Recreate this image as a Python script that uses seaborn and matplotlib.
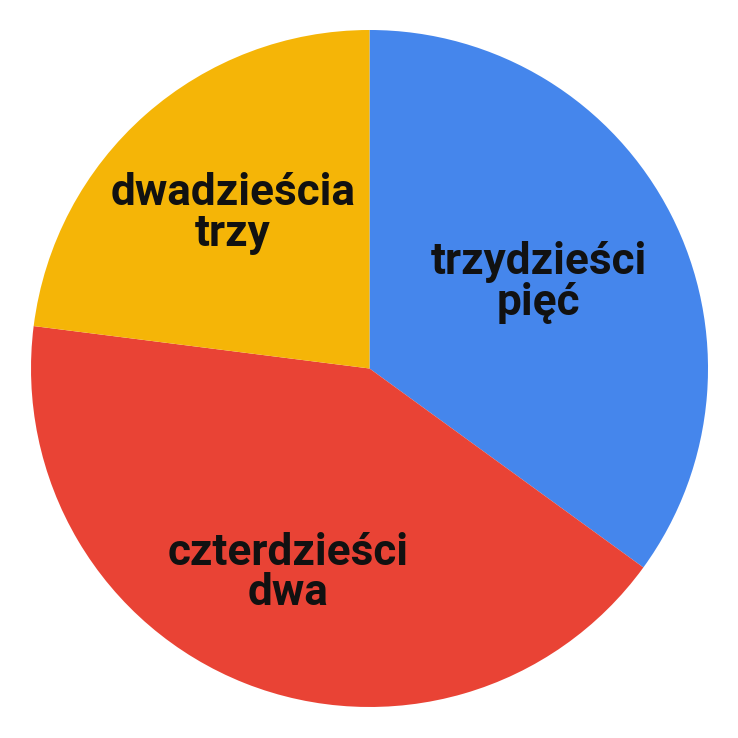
import numpy as np
import matplotlib
matplotlib.use("Agg")
import matplotlib.pyplot as plt
import seaborn as sns

sns.set_theme(style="white")
plt.rcParams["font.family"] = ["Roboto", "DejaVu Sans"]

# dane z wykresu (kolejność zgodnie z ruchem wskazówek zegara od góry)
labels = ["trzydzieści\npięć", "czterdzieści\ndwa", "dwadzieścia\ntrzy"]
values = [35, 42, 23]
colors = ["#4586EC", "#E94335", "#F5B507"]

# odległość etykiety od środka (ułamek promienia)
label_dist = [0.56, 0.65, 0.61]

fig = plt.figure(figsize=(7.38, 7.38), dpi=100)
ax = fig.add_axes([0, 0, 1, 1])

wedges, _ = ax.pie(values, colors=colors, startangle=90, counterclock=False,
                   radius=1, wedgeprops=dict(linewidth=0))

for w, lbl, d in zip(wedges, labels, label_dist):
    mid = np.deg2rad((w.theta1 + w.theta2) / 2)
    ax.text(d * np.cos(mid), d * np.sin(mid), lbl, ha="center", va="center",
            fontsize=31.8, fontweight="bold", color="#111111", linespacing=0.95)

ax.set_xlim(-1.0916, 1.0886)
ax.set_ylim(-1.0916, 1.0886)
ax.set_aspect("equal")
ax.axis("off")

fig.savefig("out.png", dpi=100, facecolor="white")
